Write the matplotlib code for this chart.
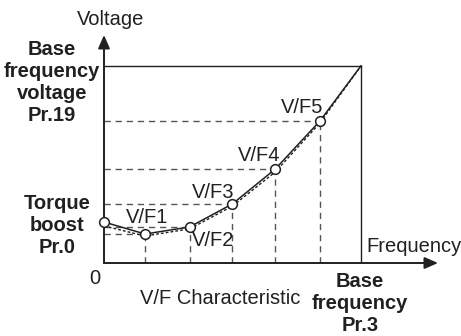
import matplotlib
matplotlib.use('Agg')
import matplotlib.pyplot as plt

plt.rcParams['font.family'] = ['Liberation Sans', 'DejaVu Sans']

# V/F 特性点 (频率 Hz, 电压 %)
freq_pts = [0, 9.6, 20, 30, 40, 50.4, 60]
volt_pts = [20.8, 14.7, 18.3, 30, 47.7, 72, 100]
point_labels = ['', 'V/F1', 'V/F2', 'V/F3', 'V/F4', 'V/F5', '']
# 原始 V/F 曲线 (虚线)
curve_freq = [0, 9.6, 20, 30, 40, 50.4, 60]
curve_volt = [18.8, 13.7, 17.3, 28.9, 46.2, 71, 100]

base_freq = 60
base_volt = 100
x_max = 78
y_max = 115.7

ink = '#231f20'
grey = '#555555'

fig = plt.figure(figsize=(4.61, 3.36), dpi=100)
ax = fig.add_axes([104 / 461, 73 / 336, 334 / 461, 228 / 336])
ax.set_xlim(0, x_max)
ax.set_ylim(0, y_max)
ax.axis('off')

# 坐标轴箭头
arrow = dict(arrowstyle='-|>,head_length=0.8,head_width=0.35', color=ink, lw=1.4,
             shrinkA=0, shrinkB=0)
ax.annotate('', xy=(0, y_max), xytext=(0, 0), arrowprops=arrow, annotation_clip=False)
ax.annotate('', xy=(x_max, 0), xytext=(0, 0), arrowprops=arrow, annotation_clip=False)

# 基底频率/电压框线
ax.plot([0, base_freq], [base_volt, base_volt], color=ink, lw=1.0)
ax.plot([base_freq, base_freq], [0, base_volt], color=ink, lw=1.0)

# 参考虚线
for f, v in zip(freq_pts[1:-1], volt_pts[1:-1]):
    ax.plot([0, f], [v, v], color=grey, lw=1.0, dashes=(4.5, 3.5))
    ax.plot([f, f], [0, v], color=grey, lw=1.0, dashes=(4.5, 3.5))

# 曲线
ax.plot(curve_freq, curve_volt, color=ink, lw=1.0, dashes=(2, 1.5))
ax.plot(freq_pts, volt_pts, color=ink, lw=1.1)
ax.plot(freq_pts[:-1], volt_pts[:-1], 'o', ms=7, mfc='white', mec=ink, mew=1.1,
        clip_on=False, zorder=5)

offsets = [None, (2, 17), (23, -14), (-19, 11), (-16, 14), (-18, 14), None]
fs = 14.5
for f, v, lab, off in zip(freq_pts, volt_pts, point_labels, offsets):
    if lab:
        ax.annotate(lab, (f, v), xytext=off, textcoords='offset pixels',
                    ha='center', va='center', fontsize=fs, color=ink)

ax.text(1.6, 123.4, 'Voltage', ha='center', va='center', fontsize=fs, color=ink)
ax.text(72.4, 8.6, 'Frequency', ha='center', va='center', fontsize=fs, color=ink)
ax.text(-2.1, -8.1, '0', ha='center', va='center', fontsize=fs, color=ink)
ax.text(27.1, -17.8, 'V/F Characteristic', ha='center', va='center', fontsize=fs, color=ink)
ax.text(-12.1, 91.4, 'Base\nfrequency\nvoltage\nPr.19', ha='center', va='center',
        fontsize=fs, fontweight='bold', color=ink, linespacing=1.2)
ax.text(-11, 18.8, 'Torque\nboost\nPr.0', ha='center', va='center',
        fontsize=fs, fontweight='bold', color=ink, linespacing=1.2)
ax.text(59.8, -20.8, 'Base\nfrequency\nPr.3', ha='center', va='center',
        fontsize=fs, fontweight='bold', color=ink, linespacing=1.2)

fig.savefig('out.png', dpi=100)
